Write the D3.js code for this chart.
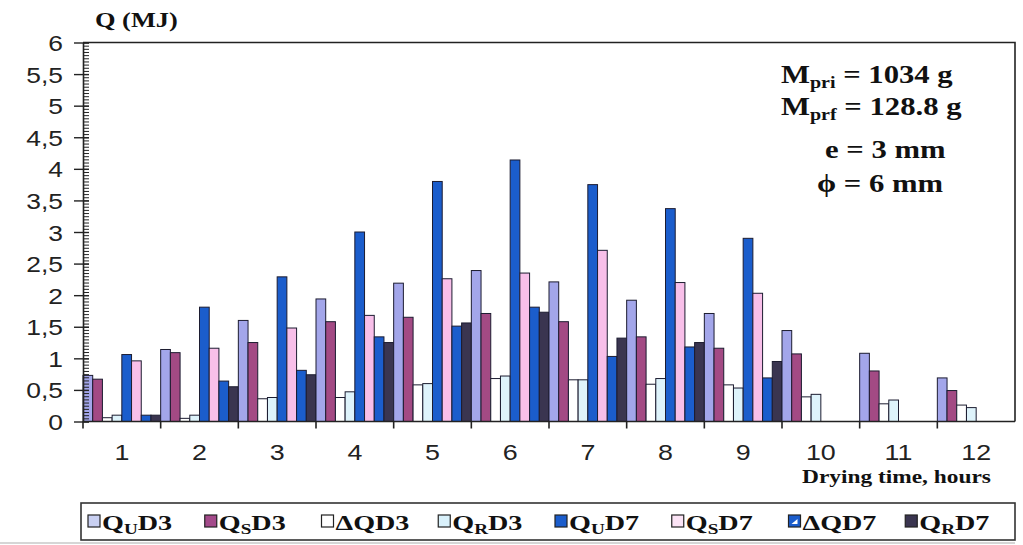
<!DOCTYPE html>
<html>
<head>
<meta charset="utf-8">
<script src="https://cdn.jsdelivr.net/npm/d3@7/dist/d3.min.js"></script>
<style>
  body { margin: 0; background: #fff; }
  svg { display: block; }
</style>
</head>
<body>
<div id="chart"></div>
<script>
// drying time (hours)
var hours = [1, 2, 3, 4, 5, 6, 7, 8, 9, 10, 11, 12];

// Q values (MJ)
var quD3 = [0.73, 1.14, 1.60, 1.94, 2.19, 2.39, 2.21, 1.92, 1.71, 1.44, 1.08, 0.69];
var qsD3 = [0.67, 1.09, 1.25, 1.58, 1.65, 1.71, 1.58, 1.34, 1.16, 1.07, 0.80, 0.49];
var dqD3 = [0.06, 0.05, 0.36, 0.38, 0.58, 0.68, 0.66, 0.59, 0.58, 0.39, 0.28, 0.26];
var qrD3 = [0.10, 0.10, 0.38, 0.47, 0.60, 0.72, 0.66, 0.68, 0.53, 0.43, 0.34, 0.22];
var quD7 = [1.06, 1.81, 2.29, 3.00, 3.80, 4.14, 3.75, 3.37, 2.90, 0, 0, 0];
var qsD7 = [0.96, 1.16, 1.48, 1.68, 2.26, 2.35, 2.71, 2.20, 2.03, 0, 0, 0];
var dqD7 = [0.10, 0.64, 0.81, 1.34, 1.51, 1.81, 1.03, 1.18, 0.69, 0, 0, 0];
var qrD7 = [0.10, 0.55, 0.74, 1.25, 1.56, 1.73, 1.32, 1.25, 0.95, 0, 0, 0];

var seriesKeys = ["quD3", "qsD3", "dqD3", "qrD3", "quD7", "qsD7", "dqD7", "qrD7"];
var seriesValues = [quD3, qsD3, dqD3, qrD3, quD7, qsD7, dqD7, qrD7];
var seriesColors = ["#a3a6ea", "#a34a84", "#ffffff", "#def3fb", "#1b5dcc", "#f8bfe9", "#1b5dcc", "#3a3550"];
var legendColors = ["#c9d0f2", "#a34a8a", "#ffffff", "#d9f1fb", "#1b5dcc", "#fbe3f5", "#1b5dcc", "#3a3550"];

// legend label pieces: main text, subscript, trailing text
var legendPre = ["Q", "Q", "\u0394QD3", "Q", "Q", "Q", "\u0394QD7", "Q"];
var legendSub = ["U", "S", "", "R", "U", "S", "", "R"];
var legendPost = ["D3", "D3", "", "D3", "D7", "D7", "", "D7"];

var yTicks = d3.range(0, 6.001, 0.5);

var width = 1023, height = 545;
var margin = {top: 42.5, left: 83, right: 8, bottom: 123.5};
var serif = "'Liberation Serif', 'Times New Roman', serif";
var sans = "'Liberation Sans', Arial, sans-serif";
var sx = 1.22; // the scan is stretched horizontally

var svg = d3.select("#chart").append("svg")
  .attr("width", width)
  .attr("height", height);

var x = d3.scaleBand()
  .domain(hours)
  .range([margin.left, width - margin.right])
  .padding(0);

var xs = d3.scaleBand()
  .domain(seriesKeys)
  .range([0, x.bandwidth()])
  .padding(0);

var y = d3.scaleLinear()
  .domain([0, 6])
  .range([height - margin.bottom, margin.top]);

// stretched text helper
function stext(parent, tx, ty, k) {
  return parent.append("text")
    .attr("transform", "translate(" + tx + "," + ty + ") scale(" + (k || sx) + ",1)");
}

// bars
var groups = svg.append("g").selectAll("g")
  .data(hours)
  .enter().append("g")
  .attr("transform", function(d) { return "translate(" + x(d) + ",0)"; });

groups.selectAll("rect")
  .data(function(d, i) {
    return seriesKeys.map(function(k, j) { return {key: k, value: seriesValues[j][i], color: seriesColors[j]}; });
  })
  .enter().append("rect")
  .filter(function(d) { return d.value > 0; })
  .attr("x", function(d) { return xs(d.key); })
  .attr("y", function(d) { return y(d.value); })
  .attr("width", xs.bandwidth())
  .attr("height", function(d) { return y(0) - y(d.value); })
  .style("fill", function(d) { return d.color; })
  .style("stroke", "#1c1c30")
  .style("stroke-width", 1);

// frame: top and right
var x0 = margin.left, x1 = width - margin.right;
svg.append("path")
  .attr("d", "M" + x0 + "," + y(6) + "H" + x1 + "V" + y(0))
  .style("fill", "none")
  .style("stroke", "#222")
  .style("stroke-width", 1.6);

// y axis
var yAxis = svg.append("g")
  .attr("transform", "translate(" + x0 + ",0)")
  .call(d3.axisLeft(y).tickValues(yTicks).tickSizeInner(9).tickSizeOuter(0)
    .tickFormat(function(d) { return d3.format("~g")(d).replace(".", ","); }));
yAxis.select(".domain").style("stroke", "#222").style("stroke-width", 1.6);
yAxis.selectAll(".tick line").style("stroke", "#222").style("stroke-width", 1.4);
yAxis.selectAll("text")
  .attr("x", null).attr("dy", null)
  .attr("transform", "translate(-20,8) scale(1.2,1)")
  .style("font-family", sans)
  .style("font-size", "22px")
  .style("fill", "#222");

// minor ticks on the y axis
svg.append("g")
  .attr("transform", "translate(" + x0 + ",0)")
  .call(d3.axisRight(y).tickValues(d3.range(0, 6.001, 0.05)).tickSize(6).tickFormat(""))
  .call(function(g) { g.select(".domain").remove(); })
  .selectAll("line").style("stroke", "#222").style("stroke-width", 1);
svg.append("g")
  .attr("transform", "translate(" + x0 + ",0)")
  .call(d3.axisRight(y).tickValues(yTicks).tickSize(6).tickFormat(""))
  .call(function(g) { g.select(".domain").remove(); })
  .selectAll("line").style("stroke", "#222").style("stroke-width", 1.4);

// x axis: baseline, edge ticks, centered labels
svg.append("line")
  .attr("x1", x0).attr("x2", x1)
  .attr("y1", y(0)).attr("y2", y(0))
  .style("stroke", "#222").style("stroke-width", 1.6);

svg.append("g").selectAll("line")
  .data(hours)
  .enter().append("line")
  .attr("x1", function(d) { return x(d); })
  .attr("x2", function(d) { return x(d); })
  .attr("y1", y(0)).attr("y2", y(0) + 7)
  .style("stroke", "#222").style("stroke-width", 1.6);

var xl = svg.append("g");
hours.forEach(function(h) {
  stext(xl, x(h) + x.bandwidth() / 2, 460, 1.22)
    .attr("text-anchor", "middle")
    .style("font-family", sans)
    .style("font-size", "22px")
    .style("fill", "#222")
    .text(h);
});

// axis titles
stext(svg, 95, 27, 1.2)
  .style("font-family", serif).style("font-weight", "bold").style("font-size", "22px")
  .style("fill", "#111")
  .text("Q (MJ)");

stext(svg, 802, 483, 1.2)
  .style("font-family", serif).style("font-weight", "bold").style("font-size", "19.5px")
  .style("fill", "#111")
  .text("Drying time, hours");

// parameters box
function noteLine(tx, ty, main, sub, rest) {
  var t = stext(svg, tx, ty, 1.18)
    .style("font-family", serif).style("font-weight", "bold").style("font-size", "26px")
    .style("fill", "#111");
  t.append("tspan").text(main);
  if (sub) {
    t.append("tspan").attr("dy", 5).style("font-size", "17px").text(sub);
    t.append("tspan").attr("dy", -5).text(rest);
  }
  return t;
}
noteLine(781, 83, "M", "pri", " = 1034 g");
noteLine(781, 115, "M", "prf", " = 128.8 g");
noteLine(825, 158, "e = 3 mm");
noteLine(817, 192, "\u03d5 = 6 mm");

// legend
var legend = svg.append("g");
legend.append("rect")
  .attr("x", 81).attr("y", 503)
  .attr("width", 934).attr("height", 37)
  .style("fill", "none").style("stroke", "#333").style("stroke-width", 1.6);

var slot = 934 / seriesKeys.length;
seriesKeys.forEach(function(k, i) {
  var lx = 88 + i * slot;
  legend.append("rect")
    .attr("x", lx).attr("y", 515)
    .attr("width", 12).attr("height", 12)
    .style("fill", legendColors[i])
    .style("stroke", "#222").style("stroke-width", 1.2);
  if (k === "dqD7") {
    legend.append("path")
      .attr("d", "M" + (lx + 3) + "," + 524 + "L" + (lx + 9) + "," + 519 + "L" + (lx + 9) + "," + 524 + "Z")
      .style("fill", "#fff");
  }
  var t = stext(legend, lx + 14, 530, 1.28)
    .style("font-family", serif).style("font-weight", "bold").style("font-size", "22px")
    .style("fill", "#111");
  t.append("tspan").text(legendPre[i]);
  if (legendSub[i]) {
    t.append("tspan").attr("dy", 4).style("font-size", "15px").text(legendSub[i]);
    t.append("tspan").attr("dy", -4).text(legendPost[i]);
  }
});

// faint scan edge under the legend
svg.append("line")
  .attr("x1", 0).attr("x2", 1015).attr("y1", 543).attr("y2", 543)
  .style("stroke", "#c8c8c8").style("stroke-width", 1.5);
</script>
</body>
</html>
